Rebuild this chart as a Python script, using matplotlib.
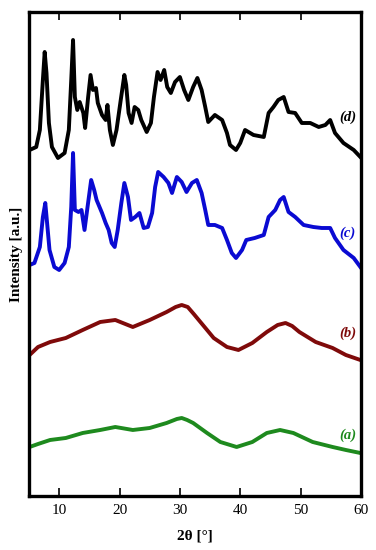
import matplotlib.pyplot as plt

# 2-theta positions and intensities (arbitrary units)
theta_a = [5.1, 6.5, 8.5, 11.1, 13.9, 16.8, 19.3, 22.2, 25.0, 27.8, 29.5, 30.3,
           31.2, 32.2, 34.5, 36.7, 39.4, 42.0, 44.4, 46.6, 48.8, 52.0, 55.3,
           57.5, 59.9]
int_a = [103, 106, 110, 112, 117, 120, 123, 120, 122, 127, 131, 132,
         130, 127, 117, 108, 103, 108, 117, 120, 117, 108, 103,
         100, 97]

theta_b = [5.1, 6.5, 8.5, 11.1, 13.9, 16.8, 19.3, 22.2, 25.0, 27.8, 29.3, 30.3,
           31.3, 32.3, 33.4, 35.6, 37.8, 39.7, 42.0, 44.4, 46.2, 47.5, 48.6,
           49.8, 52.5, 55.3, 57.5, 59.9]
int_b = [195, 203, 208, 212, 220, 228, 230, 223, 230, 238, 243, 245,
         243, 236, 228, 212, 203, 200, 207, 218, 225, 227, 224,
         218, 208, 202, 195, 190]

theta_c = [5.1, 5.9, 6.8, 7.3, 7.7, 8.0, 8.4, 9.2, 10.0, 10.9, 11.6, 12.0,
           12.3, 12.6, 13.2, 13.7, 14.2, 14.7, 15.3, 15.8, 16.2, 17.1, 17.7,
           18.2, 18.7, 19.2, 19.7, 20.3, 20.8, 21.4, 21.9, 22.6, 23.3, 24.0,
           24.7, 25.4, 25.9, 26.4, 27.3, 28.1, 28.7, 29.5, 30.3, 31.1, 32.0,
           32.8, 33.6, 34.2, 34.7, 35.8, 37.0, 37.8, 38.6, 39.3, 40.3, 41.0,
           42.4, 43.9, 44.7, 45.8, 46.6, 47.2, 48.0, 49.1, 50.5, 52.1, 53.5,
           54.9, 55.7, 57.1, 58.8, 59.9]
int_c = [285, 287, 303, 333, 347, 327, 300, 283, 280, 287, 303, 343,
         397, 340, 338, 340, 320, 343, 370, 360, 350, 337, 327,
         320, 307, 303, 320, 347, 367, 353, 330, 333, 337, 322,
         323, 337, 363, 378, 373, 367, 357, 373, 368, 358, 367,
         370, 357, 340, 325, 325, 322, 310, 297, 292, 300, 310,
         312, 315, 333, 340, 350, 353, 338, 333, 325, 323, 322,
         322, 312, 300, 292, 283]

theta_d = [5.1, 6.2, 6.8, 7.3, 7.6, 7.9, 8.3, 8.8, 9.8, 10.9, 11.6, 12.0,
           12.3, 12.6, 13.0, 13.4, 14.0, 14.3, 14.8, 15.2, 15.6, 16.1, 16.4,
           17.1, 17.7, 18.0, 18.4, 18.9, 19.5, 20.2, 20.8, 21.1, 21.5, 22.0,
           22.5, 23.1, 23.6, 24.5, 25.2, 25.7, 26.3, 26.8, 27.4, 27.9, 28.5,
           29.2, 30.0, 30.7, 31.4, 32.2, 32.9, 33.6, 34.2, 34.7, 35.8, 37.0,
           37.8, 38.3, 39.3, 40.0, 40.8, 42.2, 43.9, 44.7, 45.5, 46.3, 47.2,
           48.0, 49.1, 50.2, 51.6, 53.0, 54.1, 54.9, 55.7, 57.1, 58.8, 59.9]
int_d = [400, 403, 420, 470, 498, 477, 427, 403, 392, 397, 420, 470,
         510, 453, 440, 448, 437, 422, 453, 475, 460, 462, 447,
         435, 430, 445, 420, 405, 420, 450, 475, 465, 437, 427,
         443, 440, 430, 418, 427, 453, 478, 470, 480, 463, 457,
         468, 473, 460, 450, 463, 472, 460, 443, 428, 435, 430,
         417, 405, 400, 407, 420, 415, 413, 437, 443, 450, 453,
         438, 437, 427, 427, 423, 425, 430, 417, 407, 400, 393]

labels = ['(a)', '(b)', '(c)', '(d)']
label_pos = [115, 217, 317, 433]

def XrdPlot():
	plt.rcParams['font.family'] = ['Liberation Serif', 'DejaVu Serif']
	fig = plt.figure(figsize=(3.76, 5.5), dpi=100)
	ax = fig.add_axes([0.0771, 0.0982, 0.8829, 0.8800])

	series = [(theta_a, int_a, '#1e8a1e'), (theta_b, int_b, '#7f0a0a'),
	          (theta_c, int_c, '#0a0ad2'), (theta_d, int_d, 'black')]
	for i, (tx, iy, col) in enumerate(series):
		ax.plot(tx, iy, color=col, linewidth=2.8)
		ax.text(57.8, label_pos[i], labels[i], color=col, fontsize=10.5,
		        fontweight='bold', fontstyle='italic', ha='center', va='center')

	ax.set_xlim(5, 60)
	ax.set_ylim(54, 538)
	ax.set_xticks([10, 20, 30, 40, 50, 60])
	ax.set_yticks([])
	ax.tick_params(axis='x', direction='in', length=6, width=1.2, top=True,
	               labelsize=11, pad=6)
	for s in ax.spines.values():
		s.set_linewidth(2.4)
	ax.set_xlabel('2θ [°]', fontsize=11, fontweight='bold', labelpad=9)
	ax.set_ylabel('Intensity [a.u.]', fontsize=11, fontweight='bold', labelpad=4)
	fig.savefig('out.png', dpi=100)

def main():
	XrdPlot()

if __name__ == "__main__":
	main()
